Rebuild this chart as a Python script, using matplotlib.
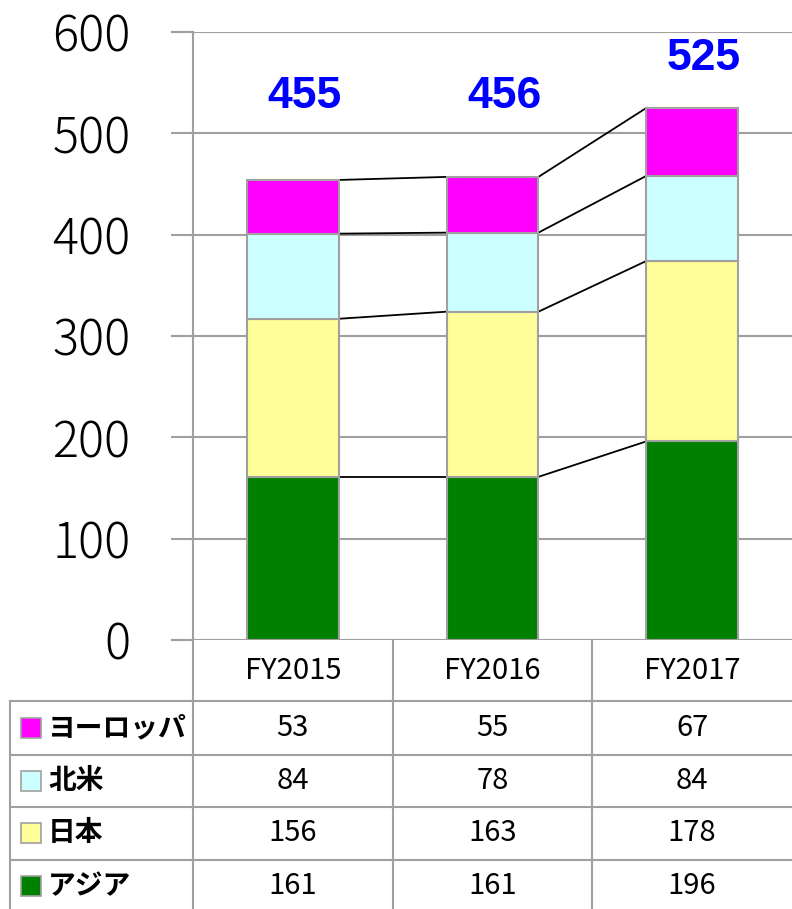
import matplotlib
matplotlib.use("Agg")
import matplotlib.pyplot as plt
import matplotlib.transforms as mtransforms
from matplotlib.patches import Rectangle
import numpy as np

plt.rcParams['font.family'] = ['Noto Sans CJK JP', 'DejaVu Sans']

# data
years = ["FY2015", "FY2016", "FY2017"]
regions = ["アジア", "日本", "北米", "ヨーロッパ"]      # bottom -> top
asia = [161, 161, 196]
japan = [156, 163, 178]
namerica = [84, 78, 84]
europe = [53, 55, 67]
totals = [455, 456, 525]
colors = ["#008000", "#FFFF99", "#CCFFFF", "#FF00FF"]

W, H = 792, 909
fig = plt.figure(figsize=(W / 100, H / 100), dpi=100)

def fx(px):
    return px / W

def fy(py):
    return 1 - py / H

gray = "#A0A0A0"
ax = fig.add_axes([fx(193), fy(640), fx(792) - fx(193), fy(32) - fy(640)])
ax.set_xlim(-0.5, 2.5)
ax.set_ylim(0, 600)

series = [asia, japan, namerica, europe]
x = np.arange(len(years))
bw = 0.46
bottom = np.zeros(len(years))
tops = []
for vals, c in zip(series, colors):
    ax.bar(x, vals, bw, bottom=bottom, color=c, edgecolor=gray, linewidth=1.5, zorder=3)
    bottom = bottom + np.array(vals)
    tops.append(bottom.copy())

# series lines between bars
for t in tops:
    for i in range(len(years) - 1):
        ax.plot([x[i] + bw / 2, x[i + 1] - bw / 2], [t[i], t[i + 1]],
                color="black", lw=1.3, zorder=2)

# totals
for i, tot in enumerate(totals):
    ax.text(x[i] + 0.06, max(tot + 49, 536), str(tot), color="#0000FF",
            fontsize=32, fontweight="bold", family="Liberation Sans",
            ha="center", va="center", zorder=4)

ax.set_yticks(range(0, 601, 100))
ax.set_yticklabels([str(v) for v in range(0, 601, 100)], fontsize=35,
                   fontweight="light")
ax.tick_params(axis="y", length=16, width=1.5, color=gray, pad=29)
ax.tick_params(axis="x", bottom=False, labelbottom=False)
ax.yaxis.grid(True, color=gray, lw=1.5, zorder=0)
ax.set_axisbelow(True)
for s in ["top", "right", "bottom"]:
    ax.spines[s].set_visible(False)
ax.spines["left"].set_color(gray)
ax.spines["left"].set_linewidth(1.5)

# data table below the chart
trans = mtransforms.blended_transform_factory(ax.transData, fig.transFigure)
row_lines = [701, 755, 807, 860]
row_centers = [728, 781, 833, 886]
for yl in row_lines:
    fig.add_artist(plt.Line2D([fx(10), 1], [fy(yl), fy(yl)], color=gray, lw=1.5))
fig.add_artist(plt.Line2D([fx(10), fx(10)], [fy(701), 0], color=gray, lw=1.5))
for xb in [-0.5, 0.5, 1.5]:
    fig.add_artist(plt.Line2D([xb, xb], [fy(640), 0], color=gray, lw=1.5,
                              transform=trans))

for i, yr in enumerate(years):
    fig.text(x[i], fy(671), yr, transform=trans, fontsize=21,
             ha="center", va="center")

table_order = list(zip(regions, series, colors))[::-1]   # top row is ヨーロッパ
for (name, vals, c), yc in zip(table_order, row_centers):
    fig.add_artist(Rectangle((fx(21), fy(yc) - 10 / H), 20 / W, 20 / H,
                             facecolor=c, edgecolor=gray, lw=1.2,
                             transform=fig.transFigure))
    fig.text(fx(48), fy(yc), name, fontsize=20, fontweight="bold",
             ha="left", va="center")
    for i, v in enumerate(vals):
        fig.text(x[i], fy(yc), str(v), transform=trans, fontsize=21,
                 ha="center", va="center")

fig.savefig("out.png", dpi=100)
